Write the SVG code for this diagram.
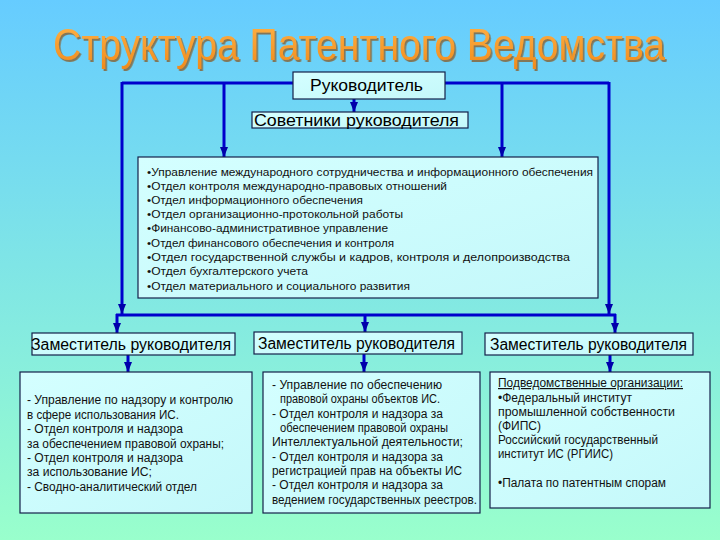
<svg xmlns="http://www.w3.org/2000/svg" width="720" height="540" viewBox="0 0 720 540">
<defs>
<linearGradient id="bg" x1="0" y1="0" x2="0" y2="1">
<stop offset="0" stop-color="#66ccff"/>
<stop offset="1" stop-color="#99ffcc"/>
</linearGradient>
<linearGradient id="boxfill" x1="0" y1="0" x2="1" y2="1">
<stop offset="0" stop-color="#d4ffff"/>
<stop offset="1" stop-color="#c4f8fa"/>
</linearGradient>
<linearGradient id="titlefill" x1="0" y1="0" x2="0" y2="1">
<stop offset="0" stop-color="#ffb347"/>
<stop offset="1" stop-color="#f08a1a"/>
</linearGradient>
<filter id="shadow" x="-5%" y="-20%" width="110%" height="150%">
<feDropShadow dx="2" dy="2" stdDeviation="0.6" flood-color="#8a5a20" flood-opacity="0.75"/>
</filter>
<marker id="arr" markerUnits="userSpaceOnUse" markerWidth="10" markerHeight="10" viewBox="0 0 10 10" refX="10" refY="5" orient="auto">
<path d="M0,1 L10,5 L0,9 Z" fill="#0000aa"/>
</marker>
<style>
.con{fill:none;stroke:#0000cc;stroke-width:3}
.arrw{fill:none;stroke:#0000cc;stroke-width:3;marker-end:url(#arr)}
.box{fill:url(#boxfill);stroke:#14204a;stroke-width:1.2}
.hdr{font-family:"Liberation Sans",Arial,sans-serif;font-size:16px;fill:#000}
.t11{font-family:"Liberation Sans",Arial,sans-serif;font-size:11.5px;fill:#111}
.t12{font-family:"Liberation Sans",Arial,sans-serif;font-size:12px;fill:#111}
.title{font-family:"Liberation Sans",Arial,sans-serif;font-size:44px;fill:url(#titlefill)}
</style>
</defs>
<rect x="0" y="0" width="720" height="540" fill="url(#bg)"/>

<g id="title" transform="translate(53,60) scale(0.843,1)">
<text class="title" x="0" y="0" filter="url(#shadow)" textLength="726" lengthAdjust="spacingAndGlyphs">Структура Патентного Ведомства</text>
</g>

<g id="connectors">
<path class="con" d="M293,83 H122"/>
<path class="arrw" d="M122,82 V314"/>
<path class="arrw" d="M224,82 V157"/>
<path class="con" d="M445,83 H609"/>
<path class="arrw" d="M609,82 V314"/>
<path class="arrw" d="M502,82 V157"/>
<path class="arrw" d="M354,99 V112"/>
<path class="con" d="M116,315 H616"/>
<path class="arrw" d="M117,314 V333"/>
<path class="arrw" d="M365,314 V332"/>
<path class="arrw" d="M615,314 V333"/>
<path class="arrw" d="M128,355 V372"/>
<path class="arrw" d="M364,354 V372"/>
<path class="arrw" d="M610,355 V372"/>
</g>

<g id="head">
<rect class="box" x="293" y="72" width="152" height="27"/>
<text class="hdr" x="310" y="91" textLength="113" lengthAdjust="spacingAndGlyphs">Руководитель</text>
</g>

<g id="advisors">
<rect class="box" x="252" y="112" width="216" height="16"/>
<text class="hdr" x="254" y="126" textLength="205" lengthAdjust="spacingAndGlyphs">Советники руководителя</text>
</g>

<g id="departments">
<rect class="box" x="138" y="157" width="460" height="141"/>
<text class="t11" x="147" y="175.5" textLength="446" lengthAdjust="spacingAndGlyphs">•Управление международного сотрудничества и информационного обеспечения</text>
<text class="t11" x="147" y="189.5" textLength="300" lengthAdjust="spacingAndGlyphs">•Отдел контроля международно-правовых отношений</text>
<text class="t11" x="147" y="203.5" textLength="216" lengthAdjust="spacingAndGlyphs">•Отдел информационного обеспечения</text>
<text class="t11" x="147" y="217.5" textLength="256" lengthAdjust="spacingAndGlyphs">•Отдел организационно-протокольной работы</text>
<text class="t11" x="147" y="232" textLength="241" lengthAdjust="spacingAndGlyphs">•Финансово-административное управление</text>
<text class="t11" x="147" y="246.5" textLength="247" lengthAdjust="spacingAndGlyphs">•Отдел финансового обеспечения и контроля</text>
<text class="t11" x="147" y="261" textLength="423" lengthAdjust="spacingAndGlyphs">•Отдел государственной службы и кадров, контроля и делопроизводства</text>
<text class="t11" x="147" y="275" textLength="161" lengthAdjust="spacingAndGlyphs">•Отдел бухгалтерского учета</text>
<text class="t11" x="147" y="289.5" textLength="263" lengthAdjust="spacingAndGlyphs">•Отдел материального и социального развития</text>
</g>

<g id="deputy1">
<rect class="box" x="32" y="333" width="203" height="22"/>
<text class="hdr" x="31" y="350" textLength="200" lengthAdjust="spacingAndGlyphs">Заместитель руководителя</text>
</g>
<g id="deputy2">
<rect class="box" x="254" y="332" width="208" height="22"/>
<text class="hdr" x="258" y="349" textLength="197" lengthAdjust="spacingAndGlyphs">Заместитель руководителя</text>
</g>
<g id="deputy3">
<rect class="box" x="485" y="333" width="208" height="22"/>
<text class="hdr" x="490" y="350" textLength="197" lengthAdjust="spacingAndGlyphs">Заместитель руководителя</text>
</g>

<g id="units1">
<rect class="box" x="20" y="372" width="232" height="141"/>
<text class="t12" x="27" y="404" textLength="206" lengthAdjust="spacingAndGlyphs">- Управление по надзору и контролю</text>
<text class="t12" x="27" y="419" textLength="152" lengthAdjust="spacingAndGlyphs">в сфере использования ИС.</text>
<text class="t12" x="27" y="433" textLength="156" lengthAdjust="spacingAndGlyphs">- Отдел контроля и надзора</text>
<text class="t12" x="27" y="448" textLength="197" lengthAdjust="spacingAndGlyphs">за обеспечением правовой охраны;</text>
<text class="t12" x="27" y="462" textLength="156" lengthAdjust="spacingAndGlyphs">- Отдел контроля и надзора</text>
<text class="t12" x="27" y="476" textLength="125" lengthAdjust="spacingAndGlyphs">за использование ИС;</text>
<text class="t12" x="27" y="491" textLength="170" lengthAdjust="spacingAndGlyphs">- Сводно-аналитический отдел</text>
</g>

<g id="units2">
<rect class="box" x="263" y="372" width="217" height="141"/>
<text class="t12" x="272" y="389" textLength="170" lengthAdjust="spacingAndGlyphs">- Управление по обеспечению</text>
<text class="t12" x="280" y="403" textLength="160" lengthAdjust="spacingAndGlyphs">правовой охраны объектов ИС.</text>
<text class="t12" x="272" y="418" textLength="171" lengthAdjust="spacingAndGlyphs">- Отдел контроля и надзора за</text>
<text class="t12" x="280" y="432" textLength="168" lengthAdjust="spacingAndGlyphs">обеспечением правовой охраны</text>
<text class="t12" x="272" y="446" textLength="191" lengthAdjust="spacingAndGlyphs">Интеллектуальной деятельности;</text>
<text class="t12" x="272" y="461" textLength="171" lengthAdjust="spacingAndGlyphs">- Отдел контроля и надзора за</text>
<text class="t12" x="272" y="475" textLength="190" lengthAdjust="spacingAndGlyphs">регистрацией прав на объекты ИС</text>
<text class="t12" x="272" y="489" textLength="171" lengthAdjust="spacingAndGlyphs">- Отдел контроля и надзора за</text>
<text class="t12" x="272" y="504" textLength="205" lengthAdjust="spacingAndGlyphs">ведением государственных реестров.</text>
</g>

<g id="units3">
<rect class="box" x="490" y="372" width="220" height="136"/>
<text class="t12" x="498" y="387" textLength="185" lengthAdjust="spacingAndGlyphs" text-decoration="underline">Подведомственные организации:</text>
<text class="t12" x="498" y="402" textLength="134" lengthAdjust="spacingAndGlyphs">•Федеральный институт</text>
<text class="t12" x="498" y="416" textLength="177" lengthAdjust="spacingAndGlyphs">промышленной собственности</text>
<text class="t12" x="498" y="430">(ФИПС)</text>
<text class="t12" x="498" y="444" textLength="160" lengthAdjust="spacingAndGlyphs">Российский государственный</text>
<text class="t12" x="498" y="458" textLength="115" lengthAdjust="spacingAndGlyphs">институт ИС (РГИИС)</text>
<text class="t12" x="498" y="487" textLength="168" lengthAdjust="spacingAndGlyphs">•Палата по патентным спорам</text>
</g>
</svg>
